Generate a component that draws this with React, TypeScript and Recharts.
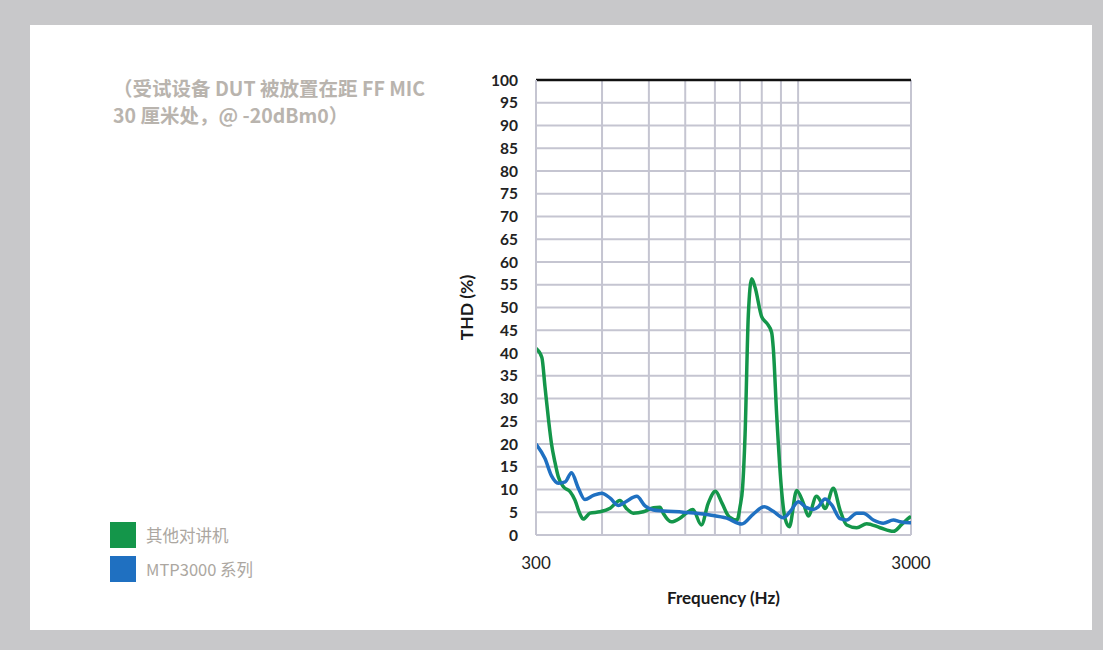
import React from 'react';
import { LineChart, Line, XAxis, YAxis, CartesianGrid, ReferenceLine, Legend } from 'recharts';

// 其他对讲机 (other radios) — frequency (Hz) and THD (%)
const otherFreq = [300, 311, 317, 324, 330, 337, 344, 355, 370, 381, 393, 401, 418, 444, 473, 502, 522, 545, 580, 617, 642, 655, 688, 726, 755, 786, 828, 864, 903, 940, 982, 1031, 1050, 1067, 1083, 1105, 1128, 1151, 1199, 1239, 1275, 1288, 1315, 1356, 1384, 1421, 1487, 1549, 1597, 1679, 1734, 1769, 1862, 1940, 2022, 2150, 2285, 2480, 2692, 2833, 2976, 3000];
const otherThd = [41, 39, 32.6, 25.3, 20, 16, 12.8, 10.6, 9.5, 7.7, 4.6, 3.5, 4.8, 5.1, 5.9, 7.6, 5.9, 4.8, 5.1, 6.0, 6.1, 4.8, 2.9, 3.7, 4.8, 5.6, 2.2, 7.0, 9.6, 7.0, 4.0, 3.3, 6.2, 10.6, 22, 48.4, 56.3, 54.5, 48, 46.5, 44.5, 41, 26.4, 9.5, 3.7, 1.8, 9.8, 7.0, 4.2, 8.5, 7.0, 5.8, 10.3, 5.5, 2.2, 1.6, 2.5, 1.6, 0.8, 2.3, 3.9, 4.1];

// MTP3000 系列 — frequency (Hz) and THD (%)
const mtpFreq = [300, 317, 330, 344, 359, 373, 389, 405, 427, 449, 473, 497, 518, 557, 586, 617, 655, 741, 873, 968, 1061, 1139, 1217, 1288, 1370, 1427, 1502, 1581, 1647, 1698, 1769, 1844, 1940, 2022, 2150, 2238, 2380, 2531, 2692, 2804, 2976, 3000];
const mtpThd = [20, 16.8, 13, 11.4, 11.7, 13.7, 10.3, 7.8, 8.7, 9.2, 8.1, 6.5, 7.2, 8.5, 6.4, 5.5, 5.3, 5.0, 4.4, 3.7, 2.4, 4.6, 6.2, 5.2, 3.8, 5.1, 7.3, 6.0, 5.6, 6.2, 7.9, 6.6, 3.6, 3.3, 4.8, 4.8, 3.3, 2.6, 3.3, 2.9, 2.7, 2.7];

const seriesNames = ['其他对讲机', 'MTP3000 系列'];
const yTicks = [0, 5, 10, 15, 20, 25, 30, 35, 40, 45, 50, 55, 60, 65, 70, 75, 80, 85, 90, 95, 100];
const xTicks = [300, 3000];
const gridFreqs = [450, 600, 750, 900, 1050, 1200, 1350, 1500, 3000];
const noteLines = ['（受试设备 DUT 被放置在距 FF MIC', '30 厘米处，@ -20dBm0）'];

const otherData = otherFreq.map((f, i) => ({ f, thd: otherThd[i] }));
const mtpData = mtpFreq.map((f, i) => ({ f, thd: mtpThd[i] }));

const GREEN = '#14964a';
const BLUE = '#1f70c1';
const GRID = '#c5c5d1';
const FONT = 'Lato, "Noto Sans", sans-serif';

const renderLegend = (props: any) => {
  const payload = [...(props.payload || [])].sort(
    (a: any, b: any) => seriesNames.indexOf(a.value) - seriesNames.indexOf(b.value)
  );
  return (
    <div>
      {payload.map((p: any, i: number) => (
        <div key={i} style={{ display: 'flex', alignItems: 'center', height: 34 }}>
          <div style={{ width: 26, height: 26, background: p.color, marginRight: 10 }} />
          <span style={{ fontFamily: '"Noto Sans CJK SC", "Noto Sans", sans-serif', fontSize: 16.5, color: '#aca7a1', lineHeight: '26px' }}>{p.value}</span>
        </div>
      ))}
    </div>
  );
};

export default function App() {
  return (
    <div style={{ position: 'absolute', left: 0, top: 0, width: 1103, height: 650, background: '#c8c8ca', overflow: 'hidden' }}>
      <div style={{ position: 'absolute', left: 30, top: 25, width: 1062, height: 605, background: '#ffffff' }} />
      <div style={{ position: 'absolute', left: 113, top: 74, fontFamily: '"Noto Sans CJK SC", sans-serif', fontWeight: 700, fontSize: 19.5, lineHeight: '27px', color: '#b9b4ae', whiteSpace: 'pre' }}>
        {noteLines.map((l, i) => (<div key={i}>{l}</div>))}
      </div>
      <div style={{ position: 'absolute', left: 0, top: 0 }}>
        <LineChart width={1103} height={650} margin={{ top: 80, right: 192, bottom: 45, left: 398 }}>
          <CartesianGrid vertical={false} horizontal stroke={GRID} strokeWidth={2} />
          {gridFreqs.map((g) => (
            <ReferenceLine key={g} x={g} stroke={GRID} strokeWidth={2} ifOverflow="visible" />
          ))}
          <ReferenceLine y={100} stroke="#111111" strokeWidth={2.5} />
          <XAxis
            dataKey="f"
            type="number"
            scale="log"
            domain={[300, 3000]}
            ticks={xTicks}
            allowDataOverflow
            height={70}
            tickLine={false}
            tickSize={0}
            tickMargin={22}
            axisLine={{ stroke: GRID, strokeWidth: 2 }}
            tick={{ fontFamily: FONT, fontSize: 17, fill: '#222222' }}
            label={{ value: 'Frequency (Hz)', position: 'insideBottom', offset: 1, style: { fontFamily: FONT, fontSize: 17, fontWeight: 700, fill: '#1a1a1a' } }}
          />
          <YAxis
            type="number"
            domain={[0, 100]}
            ticks={yTicks}
            interval={0}
            width={138}
            tickLine={false}
            tickSize={0}
            tickMargin={18}
            axisLine={{ stroke: GRID, strokeWidth: 2 }}
            tick={{ fontFamily: FONT, fontSize: 15.5, fontWeight: 700, fill: '#222222' }}
            label={{ value: 'THD (%)', angle: -90, position: 'center', style: { fontFamily: FONT, fontSize: 17.5, fontWeight: 700, fill: '#1a1a1a' } }}
          />
          <Line data={otherData} dataKey="thd" name={seriesNames[0]} type="monotone" stroke={GREEN} strokeWidth={3.5} dot={false} isAnimationActive={false} />
          <Line data={mtpData} dataKey="thd" name={seriesNames[1]} type="monotone" stroke={BLUE} strokeWidth={3.5} dot={false} isAnimationActive={false} />
          <Legend
            layout="vertical"
            verticalAlign="middle"
            align="center"
            content={renderLegend}
            wrapperStyle={{ position: 'absolute', left: 110, top: 518, width: 200 }}
          />
        </LineChart>
      </div>
    </div>
  );
}
